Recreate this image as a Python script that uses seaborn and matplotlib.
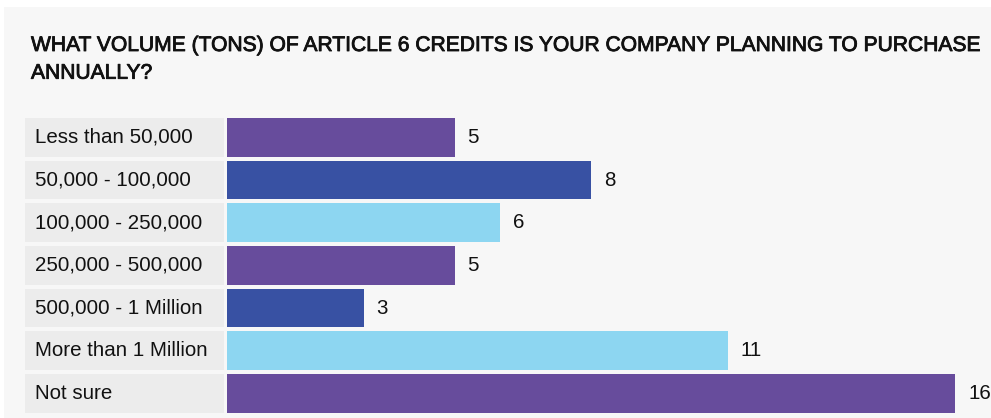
import matplotlib
matplotlib.use("Agg")
import matplotlib.pyplot as plt
import matplotlib.patheffects as pe
import seaborn as sns
import pandas as pd
from matplotlib.patches import Rectangle

# Survey answers and respondent counts
categories = [
    "Less than 50,000",
    "50,000 - 100,000",
    "100,000 - 250,000",
    "250,000 - 500,000",
    "500,000 - 1 Million",
    "More than 1 Million",
    "Not sure",
]
counts = [5, 8, 6, 5, 3, 11, 16]
bar_colors = ["#674c9c", "#3851a3", "#8dd6f1", "#674c9c", "#3851a3", "#8dd6f1", "#674c9c"]

title = ("WHAT VOLUME (TONS) OF ARTICLE 6 CREDITS IS YOUR COMPANY PLANNING TO PURCHASE\n"
         "ANNUALLY?")

sns.set_theme(style="white")
plt.rcParams["font.family"] = ["Liberation Sans", "DejaVu Sans"]

W, H = 991, 418
fig = plt.figure(figsize=(W / 100, H / 100), dpi=100)
fig.patch.set_facecolor("white")

# light panel behind everything
fig.patches.append(Rectangle((4 / W, 0), (W - 4) / W, (H - 7) / H,
                             transform=fig.transFigure, facecolor="#f7f7f7",
                             edgecolor="none", zorder=-10))

fig.text(31 / W, 1 - 36 / H, title, ha="left", va="top", fontsize=15.15,
         color="#111111", linespacing=1.58,
         path_effects=[pe.withStroke(linewidth=0.6, foreground="#111111")])

df = pd.DataFrame({"category": categories, "count": counts, "box": [1] * len(categories)})

# rows: first row center at y=137.4px, pitch 42.65px
pitch = 42.65
top_px = 137.4 - pitch / 2
ax_h = pitch * len(categories)
bottom = 1 - (top_px + ax_h) / H
height = ax_h / H

# label column
ax_lab = fig.add_axes([25 / W, bottom, (224 - 25) / W, height])
sns.barplot(data=df, y="category", x="box", orient="h", ax=ax_lab,
            color="#ececec", width=0.91, saturation=1, linewidth=0)
ax_lab.set_xlim(0, 1)
for i, c in enumerate(categories):
    ax_lab.text(10 / (224 - 25), i, c, ha="left", va="center", fontsize=14.8, color="#111111")

# bar column
px_per_unit = 45.5
ax = fig.add_axes([227 / W, bottom, (W - 227) / W, height])
sns.barplot(data=df, y="category", x="count", hue="category", palette=bar_colors,
            orient="h", ax=ax, width=0.91, saturation=1, legend=False, linewidth=0)
ax.set_xlim(0, (W - 227) / px_per_unit)
for i, v in enumerate(counts):
    ax.text(v + 13 / px_per_unit, i, str(v), ha="left", va="center", fontsize=14.8, color="#111111")

for a in (ax_lab, ax):
    a.set_ylim(len(categories) - 0.5, -0.5)
    a.set_facecolor("none")
    a.set_xlabel("")
    a.set_ylabel("")
    a.set_xticks([])
    a.set_yticks([])
    for s in a.spines.values():
        s.set_visible(False)

fig.savefig("out.png", dpi=100)
